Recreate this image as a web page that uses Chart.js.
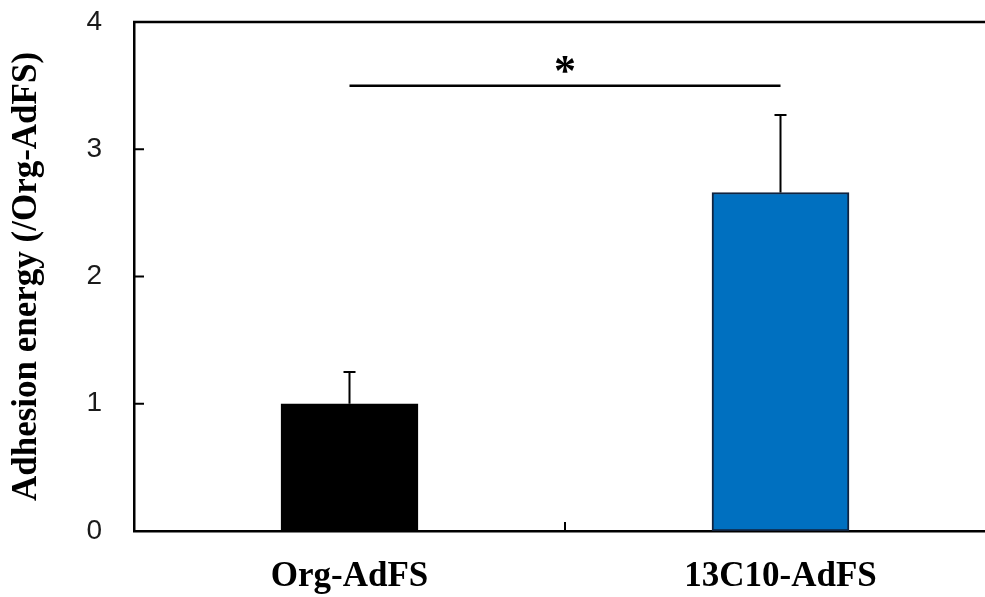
<!DOCTYPE html>
<html>
<head>
<meta charset="utf-8">
<script src="https://cdn.jsdelivr.net/npm/chart.js@4"></script>
<style>
  html, body { margin: 0; padding: 0; background: #fff; overflow: hidden; }
  #wrap { width: 1010px; height: 597px; }
</style>
</head>
<body>
<div id="wrap"><canvas id="chart" width="1010" height="597"></canvas></div>
<script>
// data
const groups = ['Org-AdFS', '13C10-AdFS'];
const means = [1.0, 2.66];
const errors = [0.25, 0.61];
const barColors = ['#000000', '#0070c0'];
const barBorders = ['#000000', '#10233f'];
const yTicks = [0, 1, 2, 3, 4];
const sigLevel = 3.5;   // height of the significance line
const sigMark = '*';

const serif = '"Liberation Serif", "Times New Roman", serif';
const sans = '"Liberation Sans", Arial, sans-serif';

// error bars, top frame, inward ticks and the significance bracket
const extras = {
    id: 'extras',
    afterDatasetsDraw(chart) {
        const { ctx, chartArea, scales: { x, y } } = chart;
        ctx.save();
        ctx.strokeStyle = '#000';
        ctx.lineCap = 'butt';

        // error bars (upper only)
        ctx.lineWidth = 2;
        means.forEach((m, i) => {
            const px = x.getPixelForValue(i);
            const base = y.getPixelForValue(m);
            const top = y.getPixelForValue(m + errors[i]);
            ctx.beginPath();
            ctx.moveTo(px, base);
            ctx.lineTo(px, top);
            ctx.moveTo(px - 6, top);
            ctx.lineTo(px + 6, top);
            ctx.stroke();
        });

        // top frame line
        ctx.lineWidth = 2.5;
        ctx.beginPath();
        ctx.moveTo(chartArea.left - 1, chartArea.top);
        ctx.lineTo(chartArea.right, chartArea.top);
        ctx.stroke();

        // y ticks pointing inwards
        ctx.lineWidth = 2;
        yTicks.slice(1, -1).forEach(v => {
            const py = y.getPixelForValue(v);
            ctx.beginPath();
            ctx.moveTo(chartArea.left, py);
            ctx.lineTo(chartArea.left + 10, py);
            ctx.stroke();
        });

        // category divider ticks on the x axis
        for (let i = 1; i < groups.length; i++) {
            const px = (x.getPixelForValue(i - 1) + x.getPixelForValue(i)) / 2;
            ctx.beginPath();
            ctx.moveTo(px, chartArea.bottom);
            ctx.lineTo(px, chartArea.bottom - 9);
            ctx.stroke();
        }

        // significance line and star
        const sx1 = x.getPixelForValue(0);
        const sx2 = x.getPixelForValue(1);
        const sy = y.getPixelForValue(sigLevel);
        ctx.lineWidth = 2.5;
        ctx.beginPath();
        ctx.moveTo(sx1, sy);
        ctx.lineTo(sx2, sy);
        ctx.stroke();
        ctx.fillStyle = '#000';
        ctx.font = 'bold 44px ' + serif;
        ctx.textAlign = 'center';
        ctx.textBaseline = 'alphabetic';
        ctx.fillText(sigMark, (sx1 + sx2) / 2, sy - 1);
        ctx.restore();
    }
};

new Chart(document.getElementById('chart'), {
    type: 'bar',
    data: {
        labels: groups,
        datasets: [{
            data: means,
            backgroundColor: barColors,
            borderColor: barBorders,
            borderWidth: 2,
            borderSkipped: false,
            barThickness: 137
        }]
    },
    options: {
        responsive: false,
        animation: false,
        events: [],
        layout: { padding: { top: 22, right: 14, left: 0, bottom: 0 } },
        plugins: {
            legend: { display: false },
            tooltip: { enabled: false }
        },
        scales: {
            x: {
                grid: { display: false },
                border: { display: true, color: '#000', width: 2.5 },
                ticks: {
                    color: '#000',
                    padding: 17,
                    font: { family: serif, size: 35, weight: 'bold' }
                },
                afterFit: s => { s.height = 66; s.paddingTop = 0; s.paddingBottom = 0; }
            },
            y: {
                min: 0,
                max: 4,
                grid: { display: false },
                border: { display: true, color: '#000', width: 2.5 },
                afterBuildTicks: s => { s.ticks = yTicks.map(v => ({ value: v })); },
                ticks: {
                    color: '#1a1a1a',
                    padding: 24,
                    font: { family: sans, size: 28 }
                },
                title: {
                    display: true,
                    text: 'Adhesion energy (/Org-AdFS)',
                    color: '#000',
                    padding: { top: 6, bottom: 0 },
                    font: { family: serif, size: 35, weight: 'bold' }
                },
                afterFit: s => { s.width = 134; s.paddingTop = 0; s.paddingBottom = 0; }
            }
        }
    },
    plugins: [extras]
});
</script>
</body>
</html>
